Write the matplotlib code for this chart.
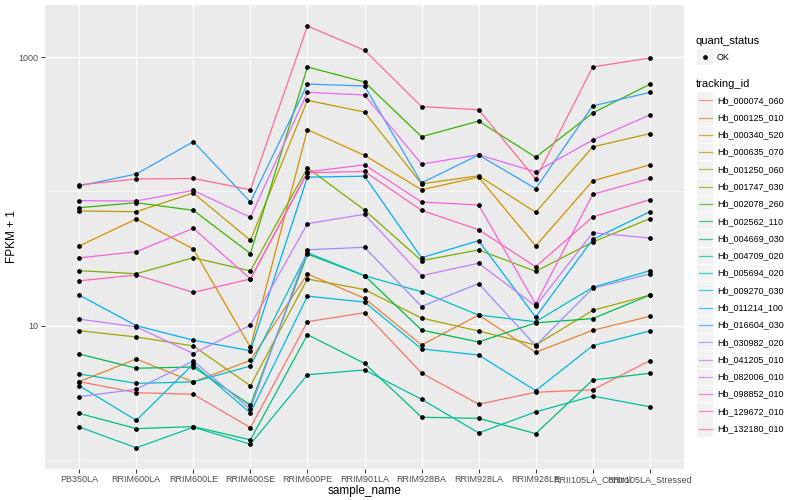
import matplotlib

matplotlib.use("Agg")
import matplotlib.pyplot as plt
from matplotlib.lines import Line2D
from matplotlib.patches import Rectangle
from matplotlib.ticker import NullFormatter

plt.rcParams["font.family"] = ["Liberation Sans", "DejaVu Sans"]

samples = [
    "PB350LA", "RRIM600LA", "RRIM600LE", "RRIM600SE", "RRIM600PE", "RRIM901LA",
    "RRIM928BA", "RRIM928LA", "RRIM928LE", "RRII105LA_Control", "RRII105LA_Stressed",
]

tracking_ids = [
    "Hb_000074_060", "Hb_000125_010", "Hb_000340_520", "Hb_000635_070", "Hb_001250_060",
    "Hb_001747_030", "Hb_002078_260", "Hb_002562_110", "Hb_004669_030", "Hb_004709_020",
    "Hb_005694_020", "Hb_009270_030", "Hb_011214_100", "Hb_016604_030", "Hb_030982_020",
    "Hb_041205_010", "Hb_082006_010", "Hb_098852_010", "Hb_129672_010", "Hb_132180_010",
]

# ggplot default hue palette for 20 levels
hue_colors = [
    "#F8766D", "#EA8331", "#D89000", "#C09B00", "#A3A500", "#7CAE00", "#39B600",
    "#00BB4E", "#00BF7D", "#00C1A3", "#00BFC4", "#00BAE0", "#00B0F6", "#35A2FF",
    "#9590FF", "#C77CFF", "#E76BF3", "#FA62DB", "#FF62BC", "#FF6C91",
]

# FPKM + 1, one list per tracking_id
fpkm_plus1 = {
    "Hb_000074_060": [3.83, 3.17, 3.08, 1.74, 10.7, 12.5, 4.44, 2.60, 3.19, 3.33, 5.49],
    "Hb_000125_010": [3.83, 5.65, 3.81, 5.52, 24.3, 16.0, 7.18, 12.0, 6.34, 9.24, 11.75],
    "Hb_000340_520": [39.3, 62.4, 37.3, 6.9, 289, 186, 103, 128, 39.3, 120, 158],
    "Hb_000635_070": [71.6, 70.7, 97.4, 43.3, 478, 391, 114, 131, 70.0, 215, 270],
    "Hb_001250_060": [9.18, 8.24, 7.06, 3.57, 22.3, 18.6, 11.4, 9.13, 7.18, 13.0, 16.9],
    "Hb_001747_030": [25.7, 24.4, 32.1, 25.6, 150, 72.8, 30.5, 36.7, 25.4, 42.0, 62.7],
    "Hb_002078_260": [75.7, 82.5, 72.4, 34.5, 847, 655, 256, 335, 180, 385, 629],
    "Hb_002562_110": [6.15, 4.82, 4.92, 2.56, 34.2, 23.6, 9.29, 7.56, 10.5, 11.3, 16.9],
    "Hb_004669_030": [2.22, 1.71, 1.77, 1.41, 8.57, 5.24, 2.08, 2.04, 1.57, 3.94, 4.42],
    "Hb_004709_020": [1.76, 1.23, 1.75, 1.31, 4.31, 4.68, 2.83, 1.59, 2.28, 2.99, 2.49],
    "Hb_005694_020": [4.37, 3.72, 3.81, 5.01, 35.0, 23.6, 17.9, 12.0, 10.7, 19.3, 25.7],
    "Hb_009270_030": [3.57, 1.97, 5.18, 2.24, 16.6, 15.0, 6.71, 6.05, 3.28, 7.10, 9.13],
    "Hb_011214_100": [16.9, 10.0, 7.8, 6.5, 128, 130, 32.1, 43.0, 11.6, 44.0, 70.7],
    "Hb_016604_030": [110, 135, 235, 83.5, 632, 611, 116, 187, 105, 434, 548],
    "Hb_030982_020": [2.96, 3.36, 5.46, 2.39, 36.8, 38.4, 13.9, 20.6, 7.10, 19.0, 24.3],
    "Hb_041205_010": [11.2, 9.8, 6.2, 10.1, 57.6, 67.6, 23.6, 29.2, 14.0, 49.3, 45.0],
    "Hb_082006_010": [85.4, 85.0, 102, 64.2, 548, 524, 160, 188, 140, 242, 372],
    "Hb_098852_010": [32.0, 35.6, 53.2, 22.3, 140, 158, 83.5, 79.3, 14.5, 95.3, 125],
    "Hb_129672_010": [21.6, 23.9, 17.7, 22.3, 138, 141, 72.4, 51.9, 27.5, 64.6, 86.9],
    "Hb_132180_010": [112, 124, 125, 103, 1711, 1128, 429, 407, 124, 847, 988],
}

fig = plt.figure(figsize=(8, 5), dpi=100)
ax = fig.add_axes([45 / 800, 1 - 468.7 / 500, (684 - 45) / 800, (468.7 - 5) / 500])
ax.set_facecolor("#EBEBEB")

x = list(range(len(samples)))
for tid, color in zip(tracking_ids, hue_colors):
    ax.plot(x, fpkm_plus1[tid], color=color, linewidth=0.9, zorder=2)
for tid in tracking_ids:
    ax.plot(x, fpkm_plus1[tid], "o", color="black", markersize=2.4, zorder=3)

ax.set_yscale("log")
ax.set_ylim(10 ** -0.0656, 10 ** 3.3897)
ax.set_xlim(-0.6, len(samples) - 0.4)
ax.set_yticks([10, 1000])
ax.set_yticklabels(["10", "1000"])
ax.set_yticks([1, 100], minor=True)
ax.yaxis.set_minor_formatter(NullFormatter())
ax.set_xticks(x)
ax.set_xticklabels(samples)

ax.grid(which="major", color="white", linewidth=1.0)
ax.grid(which="minor", axis="y", color="white", linewidth=0.5)
ax.set_axisbelow(True)
for s in ax.spines.values():
    s.set_visible(False)
ax.tick_params(which="major", length=3, width=0.7, color="#333333",
               labelsize=6.5, labelcolor="#4D4D4D", pad=1.5)
ax.tick_params(which="minor", length=0)
ax.set_xlabel("sample_name", fontsize=8.5)
ax.set_ylabel("FPKM + 1", fontsize=8.5)
ax.xaxis.set_label_coords(0.5, -0.035)
ax.yaxis.set_label_coords(-0.043, 0.5)

# legend drawn in pixel coordinates
leg = fig.add_axes([0, 0, 1, 1])
leg.set_xlim(0, 800)
leg.set_ylim(500, 0)
leg.axis("off")

leg.text(696, 41, "quant_status", fontsize=8, va="center", ha="left")
leg.add_patch(Rectangle((697, 49), 16, 16, color="#F2F2F2", lw=0))
leg.plot([705], [57], "o", color="black", markersize=2.4)
leg.text(717, 57, "OK", fontsize=6.5, va="center", ha="left")

leg.text(696, 84, "tracking_id", fontsize=8, va="center", ha="left")
step = 17.28
for i, (tid, color) in enumerate(zip(tracking_ids, hue_colors)):
    yc = 100.3 + i * step
    leg.add_patch(Rectangle((697, yc - 8.2), 16, 16.4, color="#F2F2F2", lw=0))
    leg.add_line(Line2D([698.5, 711.5], [yc, yc], color=color, linewidth=0.9, alpha=0.75))
    leg.text(717, yc, tid, fontsize=6.5, va="center", ha="left")

fig.savefig("out.png", dpi=100)
